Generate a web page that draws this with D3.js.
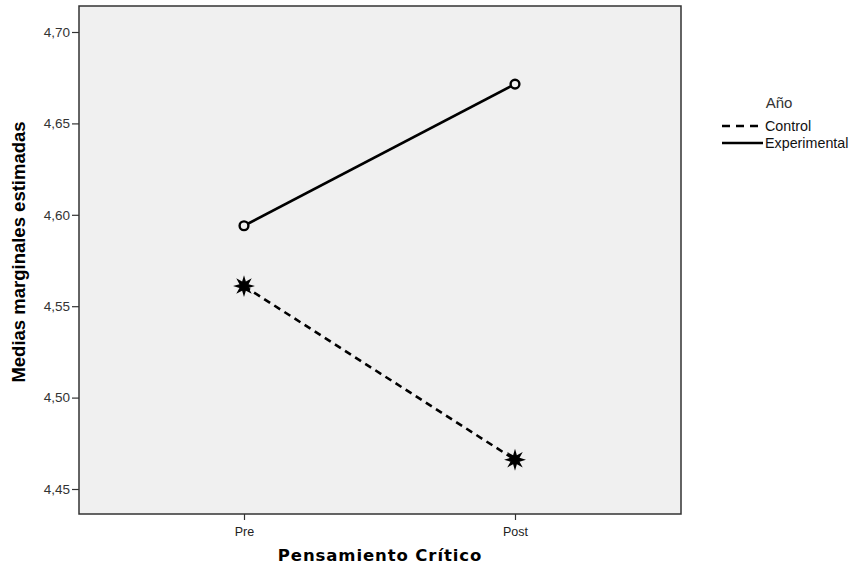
<!DOCTYPE html>
<html><head><meta charset="utf-8">
<script src="https://cdn.jsdelivr.net/npm/d3@7"></script>
<style>body{margin:0;background:#fff}svg{display:block}</style>
</head><body>
<svg id="c" width="856" height="567"></svg>
<script>
const categories = ["Pre", "Post"];
const seriesNames = ["Control", "Experimental"];
const controlValues = [4.561, 4.466];
const experimentalValues = [4.594, 4.6715];
const yTicks = [4.45, 4.50, 4.55, 4.60, 4.65, 4.70];

const svg = d3.select("#c");
const L = 79, R = 681, T = 6, B = 514;
const x = d3.scalePoint().domain(categories).range([244, 515]);
const y = d3.scaleLinear().domain([4.45, 4.70]).range([489, 32]);
const fmt = d => d.toFixed(2).replace(".", ",");

svg.append("rect").attr("x", L).attr("y", T).attr("width", R - L).attr("height", B - T)
  .attr("fill", "#f0f0f0").attr("stroke", "#333").attr("stroke-width", 1.5);

const yAxis = svg.append("g").attr("transform", `translate(${L},0)`)
  .call(d3.axisLeft(y).tickValues(yTicks).tickFormat(fmt).tickSize(7).tickPadding(2));
yAxis.select(".domain").remove();
yAxis.selectAll("line").attr("stroke", "#333").attr("stroke-width", 1.2);
yAxis.selectAll("text").attr("font-family", "Liberation Sans, Arial, sans-serif").attr("font-size", 13.5).attr("fill", "#333");

const xAxis = svg.append("g").attr("transform", `translate(0,${B})`)
  .call(d3.axisBottom(x).tickSize(6).tickPadding(7));
xAxis.select(".domain").remove();
xAxis.selectAll("line").attr("stroke", "#333").attr("stroke-width", 1.2);
xAxis.selectAll("text").attr("font-family", "Liberation Sans, Arial, sans-serif").attr("font-size", 12.5).attr("fill", "#222");

svg.append("text").attr("x", 380).attr("y", 561).attr("text-anchor", "middle")
  .attr("font-family", "DejaVu Sans, Verdana, sans-serif").attr("font-weight", "bold")
  .attr("font-size", 16.5).attr("letter-spacing", 0.9).text("Pensamiento Crítico");

svg.append("text").attr("transform", "translate(25,252) rotate(-90)").attr("text-anchor", "middle")
  .attr("font-family", "Liberation Sans Narrow, Liberation Sans, Arial, sans-serif").attr("font-weight", "bold")
  .attr("font-size", 18.5).text("Medias marginales estimadas");

const line = d3.line().x((d, i) => x(categories[i])).y(d => y(d));
svg.append("path").datum(experimentalValues).attr("d", line)
  .attr("fill", "none").attr("stroke", "#000").attr("stroke-width", 2.6);
svg.append("path").datum(controlValues).attr("d", line)
  .attr("fill", "none").attr("stroke", "#000").attr("stroke-width", 2.6).attr("stroke-dasharray", "7,5");

const star8 = {
  draw(ctx, size) {
    const ro = Math.sqrt(size) / 2, ri = ro * 0.45, n = 8;
    for (let k = 0; k < 2 * n; k++) {
      const a = k * Math.PI / n - Math.PI / 2;
      const r = k % 2 === 0 ? ro : ri;
      const px = r * Math.cos(a), py = r * Math.sin(a);
      if (k === 0) ctx.moveTo(px, py); else ctx.lineTo(px, py);
    }
    ctx.closePath();
  }
};
svg.selectAll(".st").data(controlValues).enter().append("path")
  .attr("transform", (d, i) => `translate(${x(categories[i])},${y(d)})`)
  .attr("d", d3.symbol().type(star8).size(480)).attr("fill", "#000");
svg.selectAll(".ci").data(experimentalValues).enter().append("circle")
  .attr("cx", (d, i) => x(categories[i])).attr("cy", d => y(d)).attr("r", 4.4)
  .attr("fill", "#f0f0f0").attr("stroke", "#000").attr("stroke-width", 2.4);

// legend
const lg = svg.append("g");
lg.append("text").attr("x", 779).attr("y", 108).attr("text-anchor", "middle")
  .attr("font-family", "Liberation Sans, Arial, sans-serif").attr("font-size", 15).attr("fill", "#333").text("Año");
seriesNames.forEach((s, i) => {
  const yy = 126 + i * 17;
  lg.append("line").attr("x1", 722).attr("x2", 763).attr("y1", yy).attr("y2", yy)
    .attr("stroke", "#000").attr("stroke-width", 2.6).attr("stroke-dasharray", i === 0 ? "8,6" : null);
  lg.append("text").attr("x", 765).attr("y", yy + 5)
    .attr("font-family", "Liberation Sans, Arial, sans-serif").attr("font-size", 14.3).attr("fill", "#111").text(s);
});
</script>
</body></html>
